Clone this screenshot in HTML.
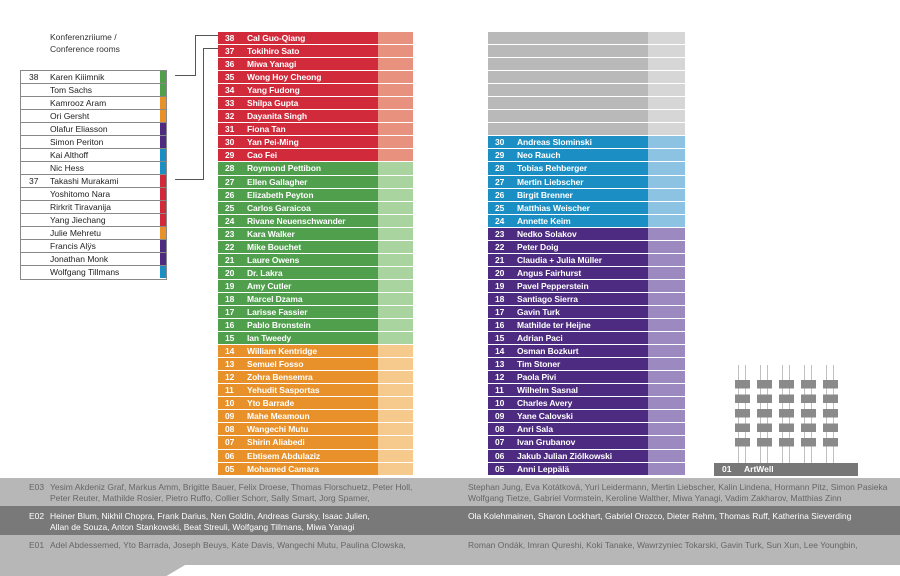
<!DOCTYPE html>
<html><head><meta charset="utf-8"><style>
*{margin:0;padding:0;box-sizing:border-box}
body{width:900px;height:576px;background:#fff;position:relative;overflow:hidden;font-family:"Liberation Sans",sans-serif}
.col{position:absolute;display:flex;flex-direction:column}
.r{height:12.06px;margin-bottom:1px;display:flex;font-size:8.5px;line-height:12px;color:#fff;font-weight:bold;letter-spacing:-0.1px}
.r .n{width:29px;padding-left:7px}
.r .t{flex:1}
.r .l{width:35px}
#mid{left:218px;top:32px;width:195px}
#rt{left:488px;top:32px;width:197px}
#rt .r .l{width:37px}
.R{background:#d12a3b}.R .l{background:#e8917f}
.G{background:#4f9f4d}.G .l{background:#a9d49f}
.O{background:#e8912a}.O .l{background:#f6c98d}
.B{background:#1b8fc3}.B .l{background:#8dc3e2}
.P{background:#4c2b80}.P .l{background:#9b89c0}
.X{background:#b9b9b9}.X .l{background:#d6d6d6}
#leg{position:absolute;left:20px;top:70px;width:147px;border:1px solid #888}
#leg div{height:13px;border-bottom:1px solid #888;font-size:8.5px;line-height:12px;color:#222;position:relative;padding-left:29px}
#leg div:last-child{border-bottom:none}
#leg span.num{position:absolute;left:8px}
#leg i{position:absolute;right:0;top:0;width:6px;height:12px}
.ln{position:absolute;background:#555}
.fl{position:absolute;left:0;width:900px;font-size:8.5px;line-height:11px}
.fl .k{position:absolute;left:29px;top:0}
.fl .a{position:absolute;left:50px}
.fl .b{position:absolute;left:468px}
.rod{position:absolute;background:#c0c0c0;width:1px}
</style></head><body>
<div style="position:absolute;left:50px;top:31px;font-size:8.5px;line-height:12px;color:#333">Konferenzriiume /<br>Conference rooms</div>

<div id="leg">
<div><span class="num">38</span>Karen Kiiimnik<i style="background:#4f9f4d"></i></div>
<div>Tom Sachs<i style="background:#4f9f4d"></i></div>
<div>Kamrooz Aram<i style="background:#e8912a"></i></div>
<div>Ori Gersht<i style="background:#e8912a"></i></div>
<div>Olafur Eliasson<i style="background:#4c2b80"></i></div>
<div>Simon Periton<i style="background:#4c2b80"></i></div>
<div>Kai Althoff<i style="background:#1b8fc3"></i></div>
<div>Nic Hess<i style="background:#1b8fc3"></i></div>
<div><span class="num">37</span>Takashi Murakami<i style="background:#d12a3b"></i></div>
<div>Yoshitomo Nara<i style="background:#d12a3b"></i></div>
<div>Rirkrit Tiravanija<i style="background:#d12a3b"></i></div>
<div>Yang Jiechang<i style="background:#d12a3b"></i></div>
<div>Julie Mehretu<i style="background:#e8912a"></i></div>
<div>Francis Alÿs<i style="background:#4c2b80"></i></div>
<div>Jonathan Monk<i style="background:#4c2b80"></i></div>
<div>Wolfgang Tillmans<i style="background:#1b8fc3"></i></div>
</div>

<div class="ln" style="left:175px;top:75px;width:21px;height:1px"></div>
<div class="ln" style="left:195px;top:35px;width:1px;height:41px"></div>
<div class="ln" style="left:195px;top:35px;width:23px;height:1px"></div>
<div class="ln" style="left:175px;top:179px;width:29px;height:1px"></div>
<div class="ln" style="left:203px;top:48px;width:1px;height:132px"></div>
<div class="ln" style="left:203px;top:48px;width:15px;height:1px"></div>

<div class="col" id="mid">
<div class="r R"><span class="n">38</span><span class="t">Cal Guo-Qiang</span><span class="l"></span></div>
<div class="r R"><span class="n">37</span><span class="t">Tokihiro Sato</span><span class="l"></span></div>
<div class="r R"><span class="n">36</span><span class="t">Miwa Yanagi</span><span class="l"></span></div>
<div class="r R"><span class="n">35</span><span class="t">Wong Hoy Cheong</span><span class="l"></span></div>
<div class="r R"><span class="n">34</span><span class="t">Yang Fudong</span><span class="l"></span></div>
<div class="r R"><span class="n">33</span><span class="t">Shilpa Gupta</span><span class="l"></span></div>
<div class="r R"><span class="n">32</span><span class="t">Dayanita Singh</span><span class="l"></span></div>
<div class="r R"><span class="n">31</span><span class="t">Fiona Tan</span><span class="l"></span></div>
<div class="r R"><span class="n">30</span><span class="t">Yan Pei-Ming</span><span class="l"></span></div>
<div class="r R"><span class="n">29</span><span class="t">Cao Fei</span><span class="l"></span></div>
<div class="r G"><span class="n">28</span><span class="t">Roymond Pettibon</span><span class="l"></span></div>
<div class="r G"><span class="n">27</span><span class="t">Ellen Gallagher</span><span class="l"></span></div>
<div class="r G"><span class="n">26</span><span class="t">Elizabeth Peyton</span><span class="l"></span></div>
<div class="r G"><span class="n">25</span><span class="t">Carlos Garaicoa</span><span class="l"></span></div>
<div class="r G"><span class="n">24</span><span class="t">Rivane Neuenschwander</span><span class="l"></span></div>
<div class="r G"><span class="n">23</span><span class="t">Kara Walker</span><span class="l"></span></div>
<div class="r G"><span class="n">22</span><span class="t">Mike Bouchet</span><span class="l"></span></div>
<div class="r G"><span class="n">21</span><span class="t">Laure Owens</span><span class="l"></span></div>
<div class="r G"><span class="n">20</span><span class="t">Dr. Lakra</span><span class="l"></span></div>
<div class="r G"><span class="n">19</span><span class="t">Amy Cutler</span><span class="l"></span></div>
<div class="r G"><span class="n">18</span><span class="t">Marcel Dzama</span><span class="l"></span></div>
<div class="r G"><span class="n">17</span><span class="t">Larisse Fassier</span><span class="l"></span></div>
<div class="r G"><span class="n">16</span><span class="t">Pablo Bronstein</span><span class="l"></span></div>
<div class="r G"><span class="n">15</span><span class="t">Ian Tweedy</span><span class="l"></span></div>
<div class="r O"><span class="n">14</span><span class="t">William Kentridge</span><span class="l"></span></div>
<div class="r O"><span class="n">13</span><span class="t">Semuel Fosso</span><span class="l"></span></div>
<div class="r O"><span class="n">12</span><span class="t">Zohra Bensemra</span><span class="l"></span></div>
<div class="r O"><span class="n">11</span><span class="t">Yehudit Sasportas</span><span class="l"></span></div>
<div class="r O"><span class="n">10</span><span class="t">Yto Barrade</span><span class="l"></span></div>
<div class="r O"><span class="n">09</span><span class="t">Mahe Meamoun</span><span class="l"></span></div>
<div class="r O"><span class="n">08</span><span class="t">Wangechi Mutu</span><span class="l"></span></div>
<div class="r O"><span class="n">07</span><span class="t">Shirin Aliabedi</span><span class="l"></span></div>
<div class="r O"><span class="n">06</span><span class="t">Ebtisem Abdulaziz</span><span class="l"></span></div>
<div class="r O"><span class="n">05</span><span class="t">Mohamed Camara</span><span class="l"></span></div>
</div>

<div class="col" id="rt">
<div class="r X"><span class="n"></span><span class="t"></span><span class="l"></span></div>
<div class="r X"><span class="n"></span><span class="t"></span><span class="l"></span></div>
<div class="r X"><span class="n"></span><span class="t"></span><span class="l"></span></div>
<div class="r X"><span class="n"></span><span class="t"></span><span class="l"></span></div>
<div class="r X"><span class="n"></span><span class="t"></span><span class="l"></span></div>
<div class="r X"><span class="n"></span><span class="t"></span><span class="l"></span></div>
<div class="r X"><span class="n"></span><span class="t"></span><span class="l"></span></div>
<div class="r X"><span class="n"></span><span class="t"></span><span class="l"></span></div>
<div class="r B"><span class="n">30</span><span class="t">Andreas Slominski</span><span class="l"></span></div>
<div class="r B"><span class="n">29</span><span class="t">Neo Rauch</span><span class="l"></span></div>
<div class="r B"><span class="n">28</span><span class="t">Tobias Rehberger</span><span class="l"></span></div>
<div class="r B"><span class="n">27</span><span class="t">Mertin Liebscher</span><span class="l"></span></div>
<div class="r B"><span class="n">26</span><span class="t">Birgit Brenner</span><span class="l"></span></div>
<div class="r B"><span class="n">25</span><span class="t">Matthias Weischer</span><span class="l"></span></div>
<div class="r B"><span class="n">24</span><span class="t">Annette Keim</span><span class="l"></span></div>
<div class="r P"><span class="n">23</span><span class="t">Nedko Solakov</span><span class="l"></span></div>
<div class="r P"><span class="n">22</span><span class="t">Peter Doig</span><span class="l"></span></div>
<div class="r P"><span class="n">21</span><span class="t">Claudia + Julia Müller</span><span class="l"></span></div>
<div class="r P"><span class="n">20</span><span class="t">Angus Fairhurst</span><span class="l"></span></div>
<div class="r P"><span class="n">19</span><span class="t">Pavel Pepperstein</span><span class="l"></span></div>
<div class="r P"><span class="n">18</span><span class="t">Santiago Sierra</span><span class="l"></span></div>
<div class="r P"><span class="n">17</span><span class="t">Gavin Turk</span><span class="l"></span></div>
<div class="r P"><span class="n">16</span><span class="t">Mathilde ter Heijne</span><span class="l"></span></div>
<div class="r P"><span class="n">15</span><span class="t">Adrian Paci</span><span class="l"></span></div>
<div class="r P"><span class="n">14</span><span class="t">Osman Bozkurt</span><span class="l"></span></div>
<div class="r P"><span class="n">13</span><span class="t">Tim Stoner</span><span class="l"></span></div>
<div class="r P"><span class="n">12</span><span class="t">Paola Pivi</span><span class="l"></span></div>
<div class="r P"><span class="n">11</span><span class="t">Wilhelm Sasnal</span><span class="l"></span></div>
<div class="r P"><span class="n">10</span><span class="t">Charles Avery</span><span class="l"></span></div>
<div class="r P"><span class="n">09</span><span class="t">Yane Calovski</span><span class="l"></span></div>
<div class="r P"><span class="n">08</span><span class="t">Anri Sala</span><span class="l"></span></div>
<div class="r P"><span class="n">07</span><span class="t">Ivan Grubanov</span><span class="l"></span></div>
<div class="r P"><span class="n">06</span><span class="t">Jakub Julian Ziólkowski</span><span class="l"></span></div>
<div class="r P"><span class="n">05</span><span class="t">Anni Leppälä</span><span class="l"></span></div>
</div>

<!-- building -->
<div class="rod" style="left:738px;top:365px;height:98px"></div><div class="rod" style="left:745px;top:365px;height:98px"></div>
<div class="rod" style="left:760px;top:365px;height:98px"></div><div class="rod" style="left:767px;top:365px;height:98px"></div>
<div class="rod" style="left:782px;top:365px;height:98px"></div><div class="rod" style="left:789px;top:365px;height:98px"></div>
<div class="rod" style="left:804px;top:365px;height:98px"></div><div class="rod" style="left:811px;top:365px;height:98px"></div>
<div class="rod" style="left:826px;top:365px;height:98px"></div><div class="rod" style="left:833px;top:365px;height:98px"></div>
<div style="position:absolute;left:735px;top:380px;width:105px;height:68px;background:
repeating-linear-gradient(to bottom,#8a8a8a 0 8.5px,transparent 8.5px 14.5px);
-webkit-mask:repeating-linear-gradient(to right,#000 0 15px,transparent 15px 22px);mask:repeating-linear-gradient(to right,#000 0 15px,transparent 15px 22px)"></div>
<div style="position:absolute;left:714px;top:463px;width:144px;height:13px;background:#777;color:#fff;font-size:8.5px;line-height:13px;font-weight:bold"><span style="position:absolute;left:8px">01</span><span style="position:absolute;left:30px">ArtWell</span></div>

<!-- floors -->
<div style="position:absolute;left:0;top:478px;width:900px;height:28px;background:#b7b7b7"></div>
<div style="position:absolute;left:0;top:506px;width:900px;height:29px;background:#797979"></div>
<div style="position:absolute;left:0;top:535px;width:900px;height:30px;background:#b7b7b7"></div>
<div style="position:absolute;left:0;top:565px;width:185px;height:11px;background:#b7b7b7;clip-path:polygon(0 0,100% 0,90% 100%,0 100%)"></div>
<div class="fl" style="top:482px;color:#666"><span class="k">E03</span><span class="a">Yesim Akdeniz Graf, Markus Amm, Brigitte Bauer, Felix Droese, Thomas Florschuetz, Peter Holl,<br>Peter Reuter, Mathilde Rosier, Pietro Ruffo, Collier Schorr, Sally Smart, Jorg Spamer,</span><span class="b">Stephan Jung, Eva Kotátková, Yuri Leidermann, Mertin Liebscher, Kalin Lindena, Hormann Pitz, Simon Pasieka<br>Wolfgang Tietze, Gabriel Vormstein, Keroline Walther, Miwa Yanagi, Vadim Zakharov, Matthias Zinn</span></div>
<div class="fl" style="top:511px;color:#fff"><span class="k">E02</span><span class="a">Heiner Blum, Nikhil Chopra, Frank Darius, Nen Goldin, Andreas Gursky, Isaac Julien,<br>Allan de Souza, Anton Stankowski, Beat Streuli,  Wolfgang Tillmans, Miwa Yanagi</span><span class="b">Ola Kolehmainen, Sharon Lockhart, Gabriel Orozco, Dieter Rehm, Thomas Ruff, Katherina Sieverding</span></div>
<div class="fl" style="top:540px;color:#666"><span class="k">E01</span><span class="a">Adel Abdessemed, Yto Barrada, Joseph Beuys, Kate Davis, Wangechi Mutu, Paulina Clowska,</span><span class="b">Roman Ondák, Imran Qureshi, Koki Tanake, Wawrzyniec Tokarski, Gavin Turk, Sun Xun, Lee Youngbin,</span></div>
</body></html>
